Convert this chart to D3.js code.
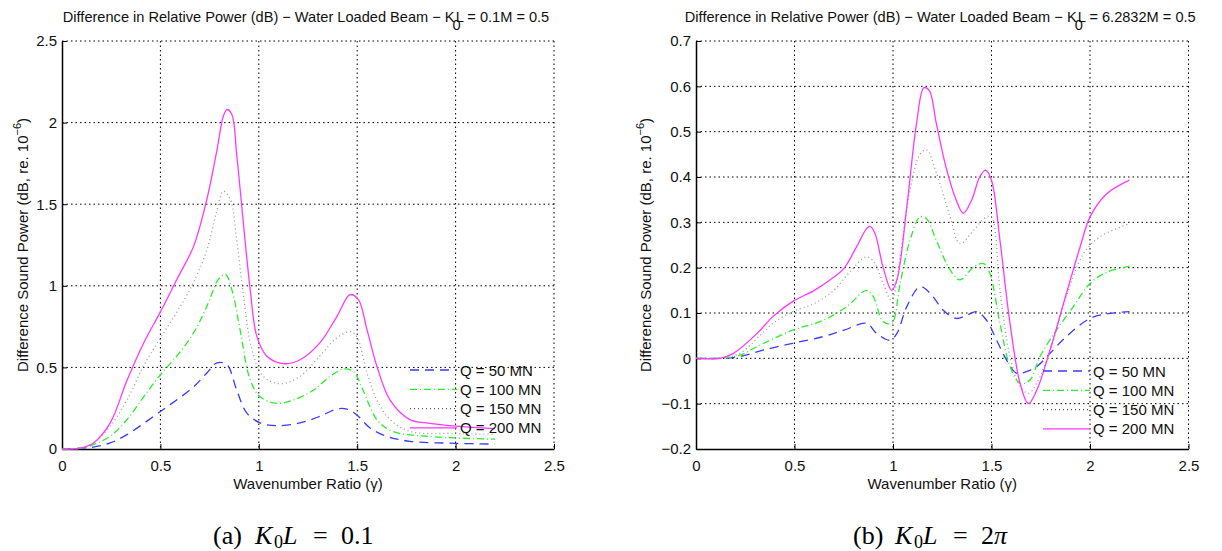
<!DOCTYPE html>
<html>
<head>
<meta charset="utf-8">
<script src="https://cdn.jsdelivr.net/npm/d3@7"></script>
<style>
  body { margin: 0; background: #fff; }
  svg { font-family: "Liberation Sans", Arial, sans-serif; }
</style>
</head>
<body>
<script>
// chart size
var w = 1222;
var h = 551;

// series names and styles shared by both panels
var seriesNames = ["Q = 50 MN", "Q = 100 MN", "Q = 150 MN", "Q = 200 MN"];
var seriesColors = ["#3a3aff", "#2aee2a", "#999999", "#ff38ff"];
var legendColors = ["#3a3aff", "#2aee2a", "#555555", "#ff38ff"];
var seriesDash = ["9,6", "7,3,1,3", "1,3", null];

// panel (a) K0L = 0.1 : [gamma, value]
var leftQ50 = [[0,0],[0.15,0.01],[0.245,0.037],[0.33,0.088],[0.5,0.23],[0.668,0.38],[0.736,0.466],[0.787,0.527],[0.838,0.517],[0.888,0.36],[0.939,0.22],[1.007,0.16],[1.09,0.143],[1.21,0.16],[1.31,0.2],[1.396,0.245],[1.447,0.245],[1.497,0.21],[1.565,0.129],[1.65,0.078],[1.768,0.047],[2.0,0.035],[2.2,0.03]];
var leftQ100 = [[0,0],[0.1,0.005],[0.16,0.027],[0.245,0.078],[0.33,0.18],[0.415,0.32],[0.5,0.455],[0.584,0.57],[0.668,0.71],[0.736,0.874],[0.795,1.04],[0.83,1.07],[0.863,0.976],[0.905,0.73],[0.956,0.425],[1.007,0.32],[1.09,0.28],[1.176,0.3],[1.277,0.36],[1.362,0.445],[1.43,0.49],[1.48,0.476],[1.53,0.36],[1.6,0.18],[1.68,0.108],[1.85,0.078],[2.2,0.06]];
var leftQ150 = [[0,0],[0.08,0.003],[0.15,0.03],[0.245,0.14],[0.33,0.3],[0.415,0.51],[0.5,0.68],[0.584,0.84],[0.668,1.02],[0.736,1.22],[0.787,1.46],[0.82,1.58],[0.855,1.53],[0.888,1.28],[0.922,0.94],[0.965,0.61],[1.023,0.445],[1.108,0.4],[1.21,0.445],[1.31,0.57],[1.396,0.68],[1.464,0.72],[1.497,0.69],[1.55,0.466],[1.6,0.3],[1.667,0.18],[1.768,0.108],[2.0,0.095],[2.2,0.09]];
var leftQ200 = [[0,0],[0.093,0.006],[0.16,0.037],[0.245,0.16],[0.33,0.42],[0.415,0.65],[0.5,0.84],[0.584,1.04],[0.668,1.24],[0.736,1.53],[0.787,1.83],[0.82,2.04],[0.838,2.08],[0.863,2.05],[0.888,1.8],[0.922,1.38],[0.956,0.98],[0.99,0.69],[1.04,0.57],[1.125,0.523],[1.21,0.547],[1.31,0.65],[1.396,0.81],[1.464,0.946],[1.506,0.915],[1.55,0.73],[1.6,0.507],[1.667,0.3],[1.768,0.18],[1.85,0.16],[2.0,0.14],[2.2,0.125]];

// panel (b) K0L = 2*pi : [gamma, value]
var rightQ50 = [[0,0],[0.12,0],[0.223,0.004],[0.34,0.018],[0.49,0.033],[0.646,0.048],[0.75,0.062],[0.866,0.077],[0.917,0.055],[0.985,0.04],[1.02,0.055],[1.07,0.114],[1.137,0.158],[1.19,0.143],[1.255,0.106],[1.32,0.088],[1.374,0.095],[1.425,0.103],[1.475,0.084],[1.526,0.04],[1.577,-0.004],[1.628,-0.033],[1.68,-0.029],[1.73,-0.018],[1.797,0.011],[1.88,0.048],[2.0,0.088],[2.1,0.099],[2.2,0.103]];
var rightQ100 = [[0,0],[0.12,0],[0.223,0.007],[0.31,0.026],[0.49,0.062],[0.646,0.084],[0.765,0.114],[0.866,0.15],[0.9,0.136],[0.95,0.081],[0.993,0.077],[1.036,0.165],[1.086,0.26],[1.137,0.312],[1.17,0.308],[1.22,0.26],[1.29,0.195],[1.34,0.173],[1.41,0.202],[1.46,0.209],[1.49,0.19],[1.543,0.077],[1.594,-0.018],[1.645,-0.055],[1.695,-0.048],[1.746,0.004],[1.83,0.062],[1.915,0.114],[2.0,0.165],[2.085,0.19],[2.2,0.203]];
var rightQ150 = [[0,0],[0.12,0],[0.223,0.011],[0.31,0.044],[0.39,0.077],[0.49,0.103],[0.6,0.121],[0.7,0.15],[0.78,0.19],[0.866,0.224],[0.909,0.209],[0.95,0.165],[0.993,0.128],[1.036,0.224],[1.086,0.37],[1.137,0.45],[1.17,0.46],[1.22,0.41],[1.29,0.312],[1.34,0.253],[1.41,0.283],[1.475,0.312],[1.5,0.312],[1.543,0.15],[1.594,0.004],[1.645,-0.062],[1.687,-0.077],[1.73,-0.055],[1.797,0.018],[1.88,0.136],[1.966,0.23],[2.05,0.268],[2.2,0.297]];
var rightQ200 = [[0,0],[0.12,0],[0.19,0.011],[0.31,0.055],[0.39,0.092],[0.49,0.125],[0.6,0.15],[0.68,0.173],[0.75,0.198],[0.815,0.246],[0.866,0.286],[0.883,0.291],[0.909,0.275],[0.95,0.2],[0.993,0.15],[1.02,0.173],[1.07,0.334],[1.12,0.52],[1.157,0.597],[1.185,0.59],[1.22,0.518],[1.27,0.42],[1.32,0.35],[1.357,0.32],[1.4,0.35],[1.44,0.4],[1.47,0.415],[1.5,0.393],[1.543,0.26],[1.594,0.077],[1.645,-0.055],[1.687,-0.1],[1.73,-0.07],[1.797,0.018],[1.88,0.143],[1.95,0.246],[2.0,0.312],[2.085,0.363],[2.2,0.393]];

// tick labels
var xTicks = [0, 0.5, 1, 1.5, 2, 2.5];
var leftYTicks = [0, 0.5, 1, 1.5, 2, 2.5];
var rightYTicks = [-0.2, -0.1, 0, 0.1, 0.2, 0.3, 0.4, 0.5, 0.6, 0.7];

var panels = [
  { x0: 62, x1: 554, yDomain: [0, 2.5], yTicks: leftYTicks,
    series: [leftQ50, leftQ100, leftQ150, leftQ200],
    kl: "0.1", caption: ["(a)", "0.1"], captionX: 213,
    legendX: 410, legendY: 370, yLabelX: 28 },
  { x0: 696, x1: 1188.5, yDomain: [-0.2, 0.7], yTicks: rightYTicks,
    series: [rightQ50, rightQ100, rightQ150, rightQ200],
    kl: "6.2832", caption: ["(b)", "2"], captionX: 853,
    legendX: 1043, legendY: 371, yLabelX: 651 }
];

var plotTop = 41, plotBottom = 449;
var fontSize = "15px";

var svg = d3.select("body")
  .append("svg")
  .attr("width", w)
  .attr("height", h);

panels.forEach(function(p, pi) {
  var xScale = d3.scaleLinear().domain([0, 2.5]).range([p.x0, p.x1]);
  var yScale = d3.scaleLinear().domain(p.yDomain).range([plotBottom, plotTop]);
  var g = svg.append("g");
  var cx = (p.x0 + p.x1) / 2;

  //grid lines (dotted)
  g.selectAll(".vgrid")
    .data(xTicks.slice(1))
    .enter()
    .append("line")
    .attr("x1", function(d) { return xScale(d); })
    .attr("x2", function(d) { return xScale(d); })
    .attr("y1", plotTop)
    .attr("y2", plotBottom)
    .attr("stroke", "#000")
    .attr("stroke-width", 1)
    .attr("stroke-dasharray", "1.5,3");
  g.selectAll(".hgrid")
    .data(p.yTicks.slice(1))
    .enter()
    .append("line")
    .attr("x1", p.x0)
    .attr("x2", p.x1)
    .attr("y1", function(d) { return yScale(d); })
    .attr("y2", function(d) { return yScale(d); })
    .attr("stroke", "#000")
    .attr("stroke-width", 1)
    .attr("stroke-dasharray", "1.5,3");

  //axes, ticks pointing inwards
  var xAxis = d3.axisBottom(xScale).tickValues(xTicks).tickSizeInner(-5).tickSizeOuter(0)
    .tickPadding(11).tickFormat(d3.format("~g"));
  var yAxis = d3.axisLeft(yScale).tickValues(p.yTicks).tickSizeInner(-5).tickSizeOuter(0)
    .tickPadding(8).tickFormat(function(d) { return d3.format("~g")(d).replace("-", "\u2212"); });
  var gx = g.append("g").attr("transform", "translate(0," + plotBottom + ")").call(xAxis);
  var gy = g.append("g").attr("transform", "translate(" + p.x0 + ",0)").call(yAxis);
  [gx, gy].forEach(function(a) {
    a.select(".domain").attr("stroke", "#000").attr("stroke-width", 1.5);
    a.selectAll(".tick line").attr("stroke", "#000");
    a.selectAll("text").attr("font-size", fontSize).attr("fill", "#111")
      .attr("font-family", "Liberation Sans, Arial, sans-serif");
  });
  gy.selectAll("text").attr("x", -5);

  //lines
  var line = d3.line()
    .x(function(d) { return xScale(d[0]); })
    .y(function(d) { return yScale(d[1]); })
    .curve(d3.curveCatmullRom.alpha(0.5));

  g.selectAll(".series")
    .data(p.series)
    .enter()
    .append("path")
    .attr("d", line)
    .attr("fill", "none")
    .attr("stroke", function(d, i) { return seriesColors[i]; })
    .attr("stroke-width", 1.3)
    .attr("stroke-dasharray", function(d, i) { return seriesDash[i]; });

  //legend (no box)
  seriesNames.forEach(function(name, i) {
    var ly = p.legendY + i * 19.3;
    g.append("line")
      .attr("x1", p.legendX).attr("x2", p.legendX + 47)
      .attr("y1", ly).attr("y2", ly)
      .attr("stroke", legendColors[i])
      .attr("stroke-width", 1.3)
      .attr("stroke-dasharray", seriesDash[i]);
    g.append("text")
      .attr("x", p.legendX + 50).attr("y", ly + 5.5)
      .attr("font-size", fontSize)
      .attr("fill", "#111")
      .text(name);
  });

  //title with subscript 0
  var t = g.append("text")
    .attr("x", cx - 2).attr("y", 22)
    .attr("text-anchor", "middle")
    .attr("font-size", "14.6px")
    .attr("fill", "#111");
  t.append("tspan").text("Difference in Relative Power (dB) \u2212 Water Loaded Beam \u2212 K");
  t.append("tspan").attr("dy", 8).attr("dx", -2).text("0");
  t.append("tspan").attr("dy", -8).attr("dx", -5).text("L = " + p.kl + "M = 0.5");

  //x label
  g.append("text")
    .attr("x", cx).attr("y", 489)
    .attr("text-anchor", "middle")
    .attr("font-size", fontSize)
    .attr("fill", "#111")
    .text("Wavenumber Ratio (\u03b3)");

  //y label
  var yl = g.append("text")
    .attr("transform", "translate(" + p.yLabelX + "," + ((plotTop + plotBottom) / 2) + ") rotate(-90)")
    .attr("text-anchor", "middle")
    .attr("font-size", fontSize)
    .attr("fill", "#111");
  yl.append("tspan").text("Difference Sound Power (dB, re. 10");
  yl.append("tspan").attr("dy", -7).attr("font-size", "11px").text("\u22126");
  yl.append("tspan").attr("dy", 7).text(")");

  //caption, parts placed from its left edge
  var c = g.append("text")
    .attr("y", 544)
    .attr("font-family", "Liberation Serif, DejaVu Serif, serif")
    .attr("font-size", "26px")
    .attr("fill", "#000");
  c.append("tspan").attr("x", p.captionX).text(p.caption[0]);
  c.append("tspan").attr("x", p.captionX + 42).attr("font-style", "italic").text("K");
  c.append("tspan").attr("x", p.captionX + 61).attr("font-size", "18px").attr("dy", 4).text("0");
  c.append("tspan").attr("x", p.captionX + 70).attr("font-style", "italic").attr("dy", -4).text("L");
  c.append("tspan").attr("x", p.captionX + 100).text("=");
  c.append("tspan").attr("x", p.captionX + 128).text(p.caption[1]);
  if (pi == 1) {
    c.append("tspan").attr("font-style", "italic").text("\u03c0");
  }
});
</script>
</body>
</html>
